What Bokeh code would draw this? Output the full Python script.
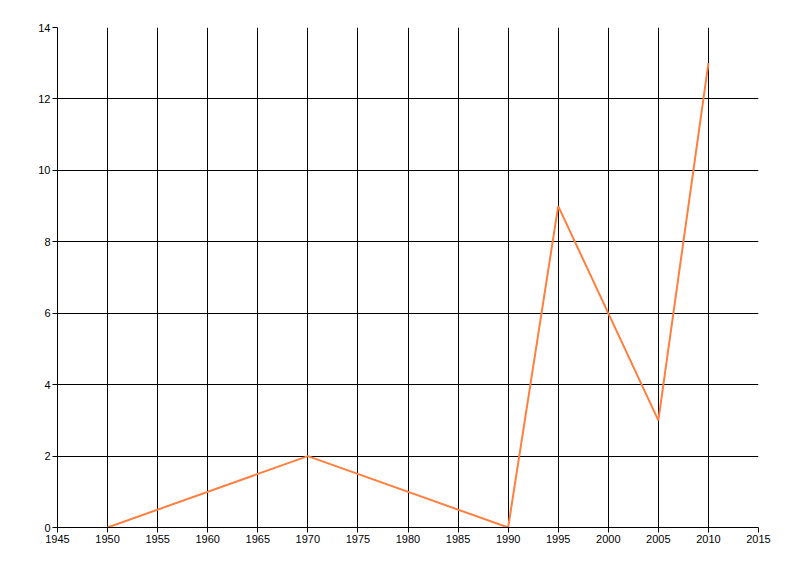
from bokeh.plotting import figure
from bokeh.models import FixedTicker, Range1d
from bokeh.embed import file_html
from bokeh.resources import INLINE

years = [1950, 1970, 1990, 1995, 2005, 2010]
values = [0, 2, 0, 9, 3, 13]
x_ticks = list(range(1945, 2016, 5))
y_ticks = list(range(0, 15, 2))

p = figure(width=784, height=560, output_backend="svg", toolbar_location=None,
           x_range=Range1d(1945, 2015), y_range=Range1d(0, 14),
           min_border_left=57, min_border_right=26, min_border_top=27, min_border_bottom=33)
p.frame_width = 701
p.frame_height = 500
p.outline_line_color = None
p.background_fill_color = "white"
p.border_fill_color = "white"

p.line(years, values, line_color="#FF7F3F", line_width=2)

for ax in (p.xaxis[0], p.yaxis[0]):
    ax.major_label_text_font = "Liberation Sans"
    ax.major_label_text_font_size = "11px"
    ax.major_label_text_color = "black"
    ax.axis_line_color = "black"
    ax.major_tick_line_color = "black"
    ax.major_tick_out = 5
    ax.major_tick_in = 0
    ax.minor_tick_line_color = None
p.xaxis.ticker = FixedTicker(ticks=x_ticks)
p.yaxis.ticker = FixedTicker(ticks=y_ticks)
p.xaxis.major_label_standoff = 2
p.yaxis.major_label_standoff = 2

p.xgrid.ticker = FixedTicker(ticks=x_ticks)
p.ygrid.ticker = FixedTicker(ticks=y_ticks)
p.grid.grid_line_color = "black"
p.grid.grid_line_alpha = 1.0
p.grid.grid_line_width = 1

open("out.html", "w").write(file_html(p, INLINE))
